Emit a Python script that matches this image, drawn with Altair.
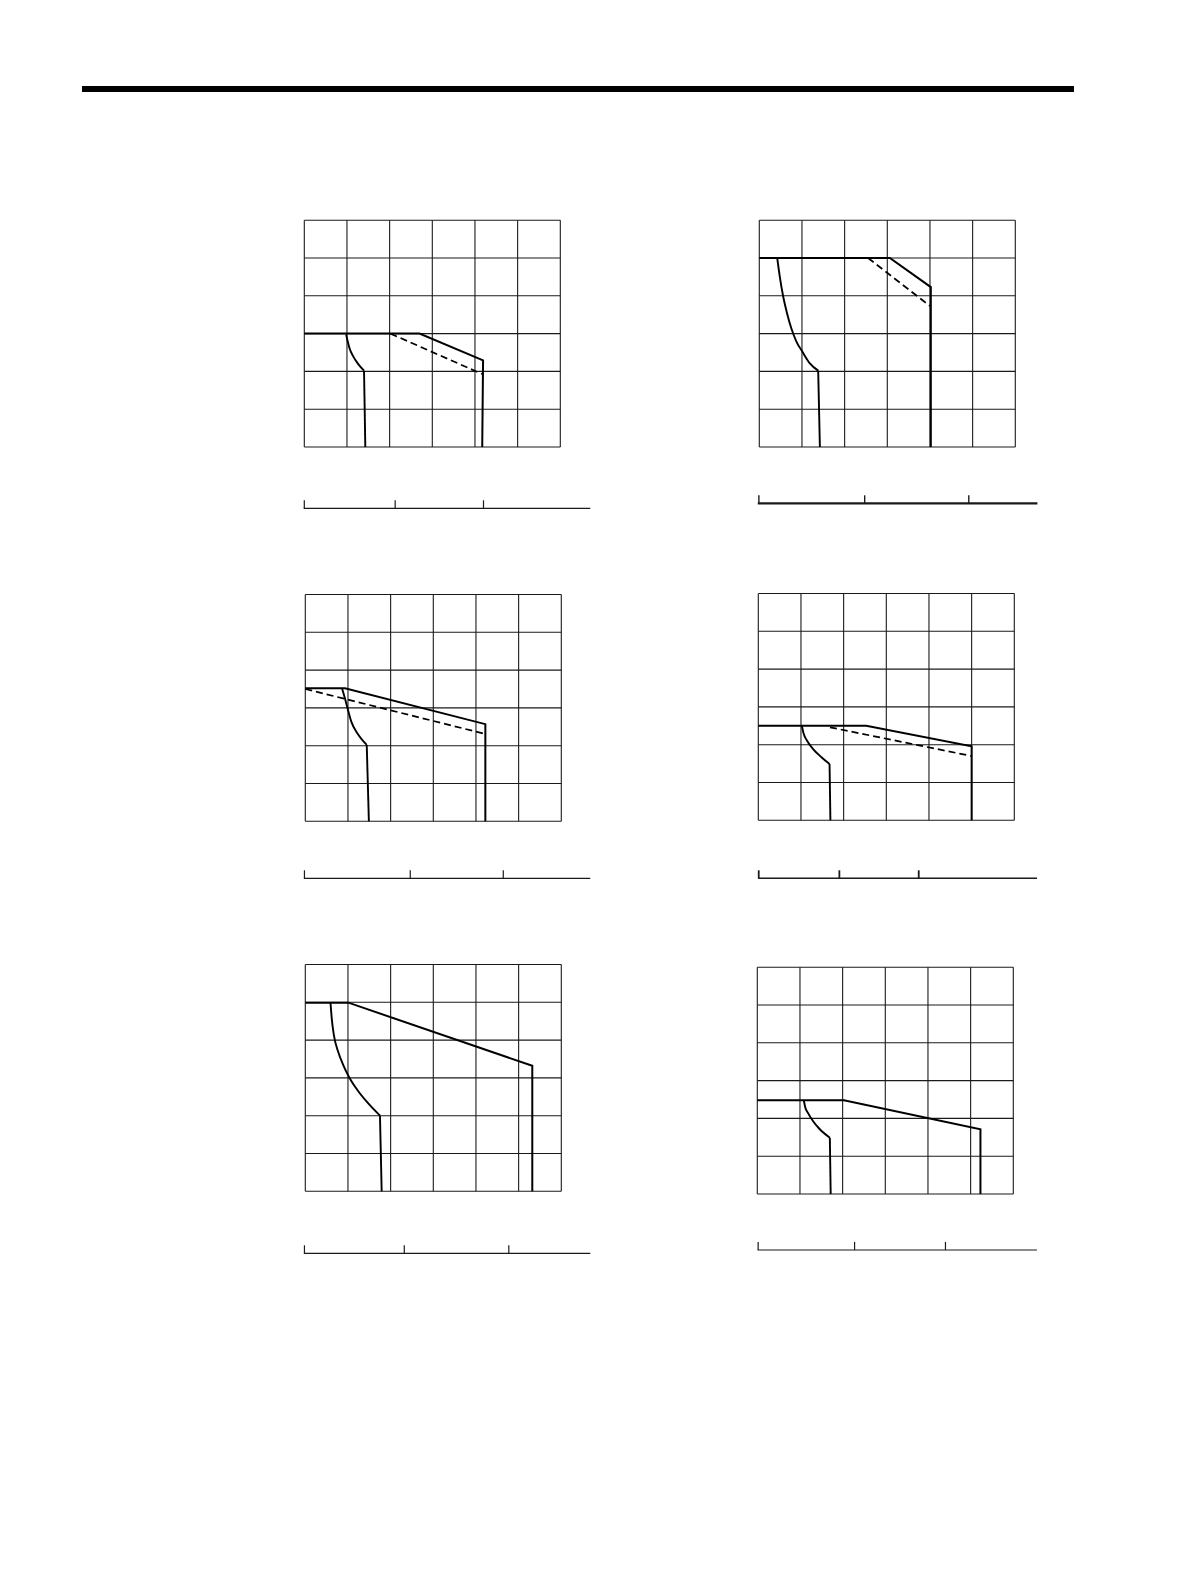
import altair as alt
import pandas as pd

# ---------------- data (grid units, 6 x 6 cells per panel) ----------------
GRID_X = [0, 1, 2, 3, 4, 5, 6]
GRID_Y = [0, 1, 2, 3, 4, 5, 6]

# panel 1 (top-left)
p1_env_x = [0.0, 2.70, 4.19, 4.17]
p1_env_y = [3.0, 3.0, 2.29, 0.0]
p1_dash_x = [2.02, 4.17]
p1_dash_y = [3.0, 1.93]
p1_arc_x = [0.98, 1.01, 1.06, 1.14, 1.26, 1.40, 1.43]
p1_arc_y = [2.98, 2.83, 2.61, 2.41, 2.20, 2.02, 0.0]
p1_ticks = [0.0, 2.13, 4.20]

# panel 2 (top-right)
p2_env_x = [0.0, 3.06, 4.02, 4.02]
p2_env_y = [5.0, 5.0, 4.23, 0.0]
p2_dash_x = [2.55, 4.00]
p2_dash_y = [5.0, 3.73]
p2_arc_x = [0.42, 0.48, 0.56, 0.65, 0.75, 0.87, 1.01, 1.18, 1.38, 1.42]
p2_arc_y = [5.0, 4.51, 3.98, 3.54, 3.14, 2.79, 2.52, 2.22, 2.02, 0.0]
p2_ticks = [-0.01, 2.47, 4.91]

# panel 3 (middle-left)
p3_env_x = [0.0, 0.93, 4.22, 4.22]
p3_env_y = [3.52, 3.52, 2.57, 0.0]
p3_dash_x = [0.0, 4.22]
p3_dash_y = [3.50, 2.31]
p3_arc_x = [0.86, 0.93, 0.99, 1.08, 1.22, 1.44, 1.49]
p3_arc_y = [3.52, 3.25, 2.99, 2.63, 2.33, 2.02, 0.0]
p3_ticks = [-0.02, 2.46, 4.64]

# panel 4 (middle-right)
p4_env_x = [0.0, 2.53, 5.0, 5.0]
p4_env_y = [2.50, 2.50, 1.96, 0.0]
p4_dash_x = [1.68, 5.0]
p4_dash_y = [2.46, 1.70]
p4_arc_x = [1.02, 1.06, 1.14, 1.28, 1.48, 1.67, 1.69]
p4_arc_y = [2.50, 2.30, 2.11, 1.89, 1.67, 1.49, 0.0]
p4_ticks = [0.01, 1.90, 3.76]

# panel 5 (bottom-left)
p5_env_x = [0.0, 1.01, 5.32, 5.32]
p5_env_y = [4.99, 4.99, 3.32, 0.0]
p5_dash_x = []
p5_dash_y = []
p5_arc_x = [0.59, 0.62, 0.67, 0.77, 0.89, 1.04, 1.22, 1.44, 1.75, 1.79]
p5_arc_y = [4.99, 4.57, 4.13, 3.69, 3.34, 2.99, 2.68, 2.37, 2.00, 0.0]
p5_ticks = [-0.02, 2.32, 4.77]

# panel 6 (bottom-right)
p6_env_x = [0.0, 2.03, 5.23, 5.23]
p6_env_y = [2.48, 2.48, 1.71, 0.0]
p6_dash_x = []
p6_dash_y = []
p6_arc_x = [1.09, 1.12, 1.19, 1.30, 1.46, 1.70, 1.72]
p6_arc_y = [2.48, 2.31, 2.14, 1.94, 1.72, 1.49, 0.0]
p6_ticks = [0.02, 2.28, 4.41]

# ---------------- layout (page pixels) ----------------
UX = 256.0 / 6
UY = 226.8 / 6
COLS = [(79, 660), (660, 1071)]
ROWS = [(200, 570), (570, 940), (940, 1300)]
TOP = (8, 200)
RULE_PAGE_Y = 89
TICK_PX = 8

LAYOUT = [
    dict(col=0, row=0, gl=301.3, gb=447.0, ay=508.3, ax1=586.7, aw=1.2, tw=1.2),
    dict(col=1, row=0, gl=756.3, gb=447.0, ay=503.3, ax1=1033.3, aw=2.2, tw=1.4),
    dict(col=0, row=1, gl=302.3, gb=821.3, ay=878.3, ax1=586.7, aw=1.2, tw=1.2),
    dict(col=1, row=1, gl=755.3, gb=820.3, ay=878.3, ax1=1033.3, aw=1.4, tw=1.8),
    dict(col=0, row=2, gl=302.3, gb=1191.3, ay=1253.3, ax1=586.7, aw=1.2, tw=1.2),
    dict(col=1, row=2, gl=754.3, gb=1194.0, ay=1250.0, ax1=1033.3, aw=1.2, tw=1.2),
]

DATA = [
    (p1_env_x, p1_env_y, p1_dash_x, p1_dash_y, p1_arc_x, p1_arc_y, p1_ticks),
    (p2_env_x, p2_env_y, p2_dash_x, p2_dash_y, p2_arc_x, p2_arc_y, p2_ticks),
    (p3_env_x, p3_env_y, p3_dash_x, p3_dash_y, p3_arc_x, p3_arc_y, p3_ticks),
    (p4_env_x, p4_env_y, p4_dash_x, p4_dash_y, p4_arc_x, p4_arc_y, p4_ticks),
    (p5_env_x, p5_env_y, p5_dash_x, p5_dash_y, p5_arc_x, p5_arc_y, p5_ticks),
    (p6_env_x, p6_env_y, p6_dash_x, p6_dash_y, p6_arc_x, p6_arc_y, p6_ticks),
]

INK = "#1a1a1a"


def line_df(xs, ys):
    return pd.DataFrame({"i": list(range(len(xs))), "x": xs, "y": ys})


def panel(lay, data):
    env_x, env_y, dash_x, dash_y, arc_x, arc_y, ticks = data
    c0, c1 = COLS[lay["col"]]
    r0, r1 = ROWS[lay["row"]]
    xs = alt.Scale(domain=[(c0 - lay["gl"]) / UX, (c1 - lay["gl"]) / UX], nice=False, zero=False)
    ys = alt.Scale(domain=[(lay["gb"] - r1) / UY, (lay["gb"] - r0) / UY], nice=False, zero=False)
    X = lambda f: alt.X(f, scale=xs, axis=None)
    Y = lambda f: alt.Y(f, scale=ys, axis=None)

    gv = pd.DataFrame({"x": GRID_X, "y0": 0, "y1": GRID_Y[-1]})
    gh = pd.DataFrame({"y": GRID_Y, "x0": 0, "x1": GRID_X[-1]})
    grid_v = alt.Chart(gv).mark_rule(color=INK, strokeWidth=1.1).encode(x=X("x:Q"), y=Y("y0:Q"), y2="y1:Q")
    grid_h = alt.Chart(gh).mark_rule(color=INK, strokeWidth=1.1).encode(y=Y("y:Q"), x=X("x0:Q"), x2="x1:Q")

    ay = (lay["gb"] - lay["ay"]) / UY
    ax_end = (lay["ax1"] - lay["gl"]) / UX
    axis_df = pd.DataFrame({"x0": [ticks[0]], "x1": [ax_end], "y": [ay]})
    axis = alt.Chart(axis_df).mark_rule(color=INK, strokeWidth=lay["aw"], strokeCap="square").encode(
        x=X("x0:Q"), x2="x1:Q", y=Y("y:Q"))
    tick_df = pd.DataFrame({"x": ticks, "y0": ay, "y1": ay + TICK_PX / UY})
    tick = alt.Chart(tick_df).mark_rule(color=INK, strokeWidth=lay["tw"]).encode(
        x=X("x:Q"), y=Y("y0:Q"), y2="y1:Q")

    env = alt.Chart(line_df(env_x, env_y)).mark_line(
        color="black", strokeWidth=2.0, strokeJoin="miter").encode(
        x=X("x:Q"), y=Y("y:Q"), order="i:Q")
    # curved part (smooth) and the near-vertical drop (straight)
    arc = alt.Chart(line_df(arc_x[:-1], arc_y[:-1])).mark_line(
        color="black", strokeWidth=1.9, interpolate="monotone").encode(
        x=X("x:Q"), y=Y("y:Q"), order="i:Q")
    drop = alt.Chart(line_df(arc_x[-2:], arc_y[-2:])).mark_line(
        color="black", strokeWidth=1.9, strokeJoin="miter").encode(
        x=X("x:Q"), y=Y("y:Q"), order="i:Q")

    layers = [grid_v, grid_h, axis, tick, env, arc, drop]
    if dash_x:
        dash = alt.Chart(line_df(dash_x, dash_y)).mark_line(
            color="black", strokeWidth=1.7, strokeDash=[7, 4]).encode(
            x=X("x:Q"), y=Y("y:Q"), order="i:Q")
        layers.append(dash)
    return alt.layer(*layers).properties(width=c1 - c0, height=r1 - r0)


# top rule
top_df = pd.DataFrame({"x0": [0.0], "x1": [1.0], "y": [1 - (RULE_PAGE_Y - TOP[0]) / (TOP[1] - TOP[0])]})
top = alt.Chart(top_df).mark_rule(color="black", strokeWidth=6).encode(
    x=alt.X("x0:Q", scale=alt.Scale(domain=[0, 1], nice=False), axis=None),
    x2="x1:Q",
    y=alt.Y("y:Q", scale=alt.Scale(domain=[0, 1], nice=False), axis=None),
).properties(width=COLS[1][1] - COLS[0][0], height=TOP[1] - TOP[0])

rows = []
for r in range(3):
    cells = [panel(LAYOUT[k], DATA[k]) for k in range(6) if LAYOUT[k]["row"] == r]
    rows.append(alt.hconcat(*cells, spacing=0))

chart = alt.vconcat(top, *rows, spacing=0).properties(
    padding={"left": COLS[0][0] - 8, "top": 0, "right": 0, "bottom": 0},
    background="white",
).configure_view(stroke=None)

chart.save("out.html", embed_options={"renderer": "svg", "actions": False})
